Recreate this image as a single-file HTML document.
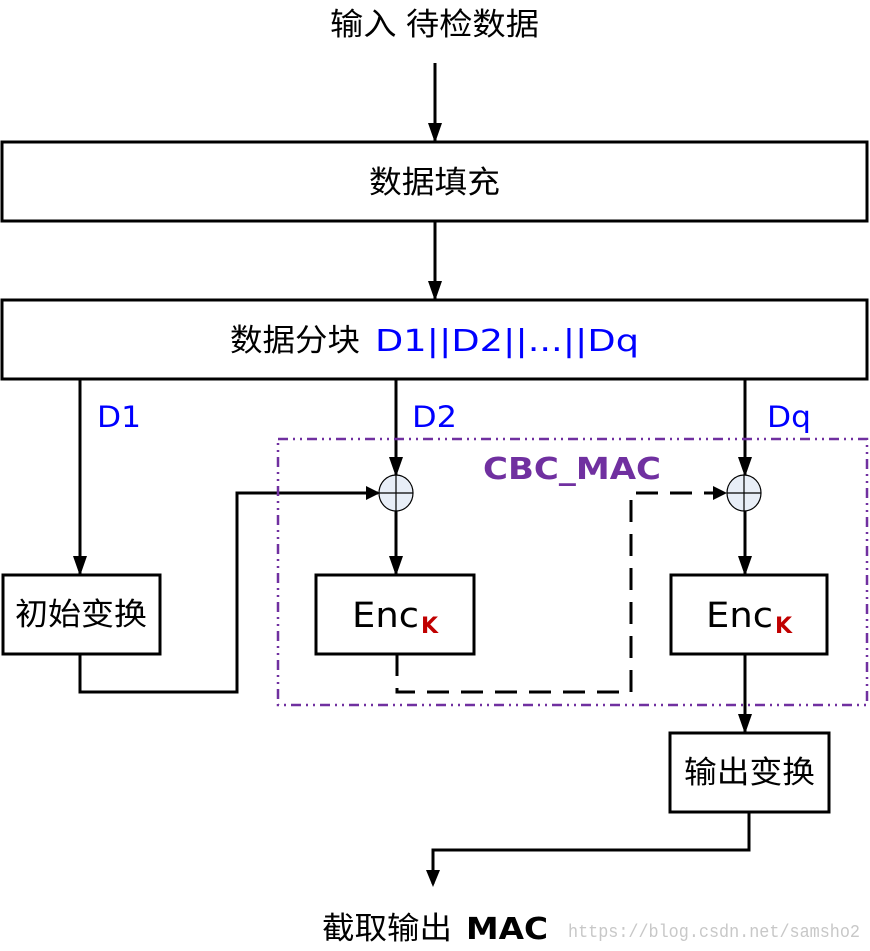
<!DOCTYPE html>
<html><head><meta charset="utf-8"><style>
html,body{margin:0;padding:0;background:#fff;}
svg{display:block;}
.cn{font-family:"Liberation Sans","Noto Sans CJK SC",sans-serif;}
</style></head><body>
<svg width="870" height="951" viewBox="0 0 870 951" xmlns="http://www.w3.org/2000/svg">
<defs>
<marker id="d" markerWidth="14" markerHeight="20" refX="7" refY="18" orient="0" markerUnits="userSpaceOnUse">
<path d="M0,0 L14,0 L7,20 Z" fill="#000"/></marker>
</defs>
<g stroke="#000" stroke-width="3" fill="none">
<line x1="435" y1="63" x2="435" y2="141" marker-end="url(#d)"/>
<rect x="2" y="142" width="865" height="79" fill="#fff"/>
<line x1="435" y1="221" x2="435" y2="299" marker-end="url(#d)"/>
<rect x="2" y="300" width="865" height="79" fill="#fff"/>
<line x1="80" y1="379" x2="80" y2="574" marker-end="url(#d)"/>
<line x1="396" y1="379" x2="396" y2="475" marker-end="url(#d)"/>
<line x1="745" y1="379" x2="745" y2="475" marker-end="url(#d)"/>
<rect x="3" y="575" width="157" height="79" fill="#fff"/>
<rect x="316" y="575" width="158" height="79" fill="#fff"/>
<rect x="671" y="575" width="156" height="79" fill="#fff"/>
<rect x="670" y="733" width="159" height="79" fill="#fff"/>
<polyline points="80,654 80,692 237,692 237,493 378,493"/>
<line x1="396" y1="511" x2="396" y2="574" marker-end="url(#d)"/>
<line x1="745" y1="511" x2="745" y2="574" marker-end="url(#d)"/>
<line x1="745" y1="654" x2="745" y2="732" marker-end="url(#d)"/>
<polyline points="749,812 749,850 433,850 433,884"/>
<polyline points="397,654 397,692 631,692 631,493 722,493" stroke-dasharray="22,12"/>
</g>
<path d="M366,486 L380,493 L366,500 Z" fill="#000"/>
<path d="M713,486 L727,493 L713,500 Z" fill="#000"/>
<path d="M426,870 L440,870 L433,887 Z" fill="#000"/>
<rect x="278" y="439" width="589" height="266" fill="none" stroke="#7030a0" stroke-width="2.5" stroke-dasharray="10,5,2,5,2,5"/>
<g stroke="#000" stroke-width="1.2" fill="#e8eef7">
<ellipse cx="396" cy="493" rx="17" ry="18"/>
<line x1="379" y1="493" x2="413" y2="493"/>
<line x1="396" y1="475" x2="396" y2="511"/>
<ellipse cx="744" cy="493" rx="17" ry="18"/>
<line x1="727" y1="493" x2="761" y2="493"/>
<line x1="744" y1="475" x2="744" y2="511"/>
</g>
<g class="cn">
<text x="330" y="35" font-size="31" textLength="209" lengthAdjust="spacingAndGlyphs">输入 待检数据</text>
<text x="369" y="193" font-size="31" textLength="131" lengthAdjust="spacingAndGlyphs">数据填充</text>
<text x="230" y="351" font-size="31" textLength="130" lengthAdjust="spacingAndGlyphs">数据分块</text>
<text x="375" y="351" font-size="30" fill="#0000ff" font-family="DejaVu Sans" textLength="264" lengthAdjust="spacingAndGlyphs">D1||D2||...||Dq</text>
<text x="97" y="427" font-size="29" fill="#0000ff" font-family="DejaVu Sans" textLength="44" lengthAdjust="spacingAndGlyphs">D1</text>
<text x="412" y="427" font-size="29" fill="#0000ff" font-family="DejaVu Sans" textLength="45" lengthAdjust="spacingAndGlyphs">D2</text>
<text x="767" y="427" font-size="29" fill="#0000ff" font-family="DejaVu Sans" textLength="44" lengthAdjust="spacingAndGlyphs">Dq</text>
<text x="483" y="479" font-size="30" font-weight="bold" fill="#7030a0" font-family="DejaVu Sans" textLength="178" lengthAdjust="spacingAndGlyphs">CBC_MAC</text>
<text x="15" y="625" font-size="31" textLength="132" lengthAdjust="spacingAndGlyphs">初始变换</text>
<text x="352" y="627" font-size="35" font-family="DejaVu Sans" textLength="67" lengthAdjust="spacingAndGlyphs">Enc</text>
<text x="421" y="633" font-size="22" font-weight="bold" fill="#c00000" font-family="DejaVu Sans">K</text>
<text x="706" y="627" font-size="35" font-family="DejaVu Sans" textLength="67" lengthAdjust="spacingAndGlyphs">Enc</text>
<text x="775" y="633" font-size="22" font-weight="bold" fill="#c00000" font-family="DejaVu Sans">K</text>
<text x="684" y="783" font-size="31" textLength="131" lengthAdjust="spacingAndGlyphs">输出变换</text>
<text x="322" y="939" font-size="31" textLength="130" lengthAdjust="spacingAndGlyphs">截取输出</text>
<text x="466" y="939" font-size="30" font-weight="bold" font-family="DejaVu Sans" textLength="82" lengthAdjust="spacingAndGlyphs">MAC</text>
<text x="568" y="937" font-size="18" fill="#c8c8c8" font-family="Liberation Mono" textLength="292" lengthAdjust="spacingAndGlyphs">https://blog.csdn.net/samsho2</text>
</g>
</svg>
</body></html>
